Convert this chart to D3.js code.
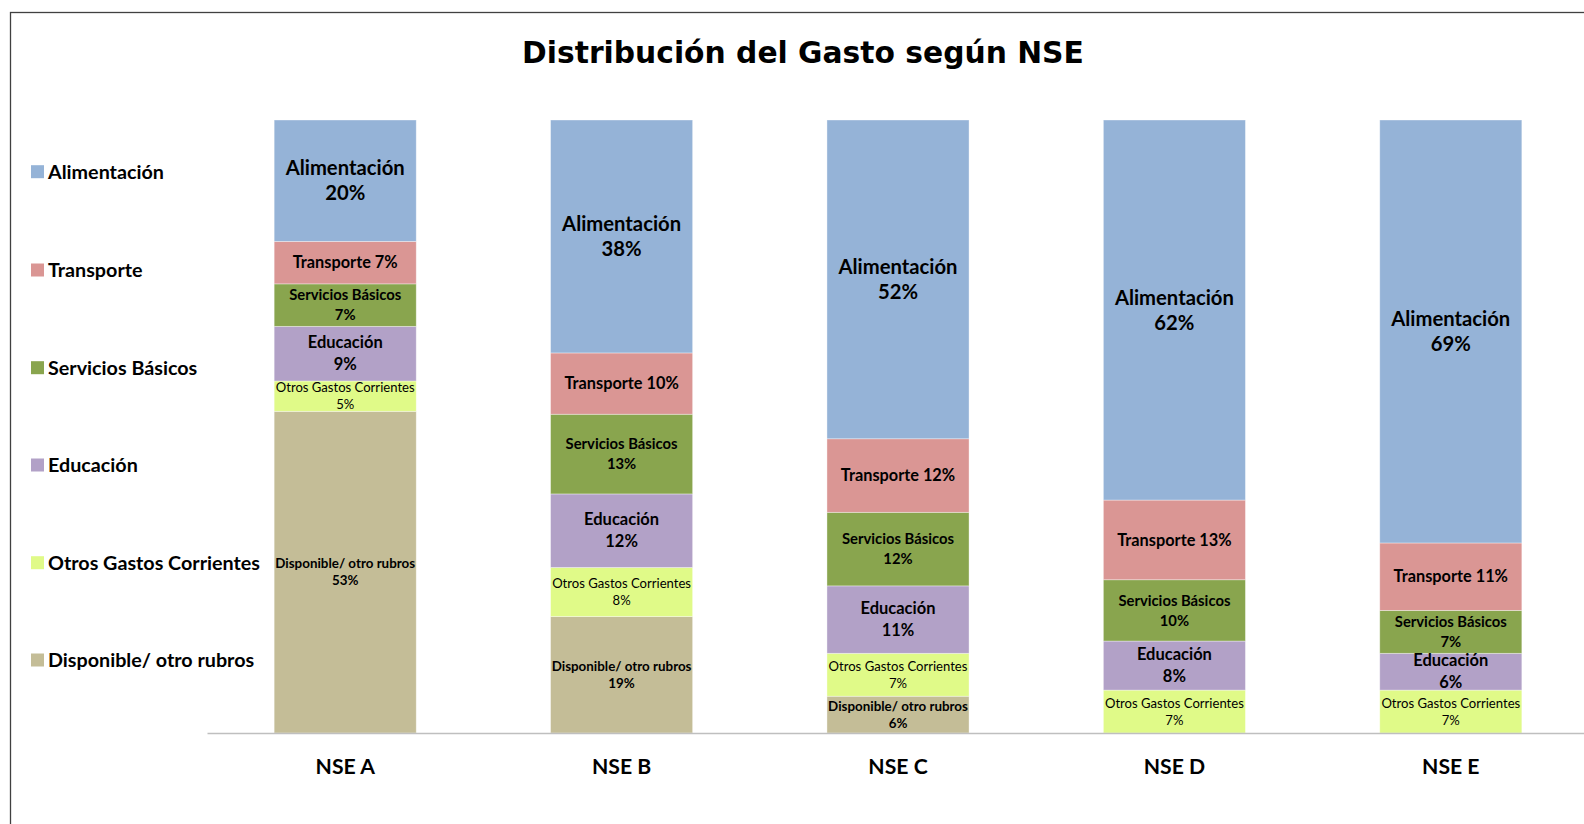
<!DOCTYPE html>
<html>
<head>
<meta charset="utf-8">
<script src="https://cdn.jsdelivr.net/npm/d3@7"></script>
<style>
  html, body { margin: 0; padding: 0; background: #fff; }
  svg { display: block; }
</style>
</head>
<body>
<svg id="chart" width="1584" height="824"></svg>
<script>
// ---- data ----
const categories = ["NSE A", "NSE B", "NSE C", "NSE D", "NSE E"];
const seriesNames = ["Alimentación", "Transporte", "Servicios Básicos", "Educación", "Otros Gastos Corrientes", "Disponible/ otro rubros"];
const alimentacion = [20, 38, 52, 62, 69];
const transporte   = [7, 10, 12, 13, 11];
const servicios    = [7, 13, 12, 10, 7];
const educacion    = [9, 12, 11, 8, 6];
const otros        = [5, 8, 7, 7, 7];
const disponible   = [53, 19, 6, 0, 0];
const titleText = "Distribución del Gasto según NSE";

const seriesValues = [alimentacion, transporte, servicios, educacion, otros, disponible];
const colors = ["#95B3D7", "#DA9694", "#89A54E", "#B2A1C7", "#E0FA88", "#C4BD97"];

// ---- helpers ----
const ctx = document.createElement("canvas").getContext("2d");
function fitSize(text, weight, family, target) {
  ctx.font = `${weight} 100px ${family}`;
  return 100 * target / ctx.measureText(text).width;
}
const calib = "Lato";

const svg = d3.select("#chart");
const W = 1584, H = 824;

// frame
svg.append("rect").attr("x", 10.5).attr("y", 12.5).attr("width", 1600).attr("height", 900)
  .attr("fill", "none").attr("stroke", "#404040").attr("stroke-width", 1.3);

// title
const titleSize = fitSize(titleText, "bold", "DejaVu Sans", 562);
svg.append("text").attr("x", 803).attr("y", 62.5).attr("text-anchor", "middle")
  .attr("font-family", "DejaVu Sans").attr("font-weight", "bold")
  .attr("font-size", titleSize).attr("fill", "#000").text(titleText);

// scales
const x = d3.scaleBand().domain(categories).range([207, 1589]).paddingInner(0.486).paddingOuter(0.243);
const y = d3.scaleLinear().domain([0, 1]).range([733, 120]);

// table
const table = categories.map((c, i) => {
  const o = { cat: c };
  seriesNames.forEach((s, j) => o[s] = seriesValues[j][i]);
  return o;
});
const stackKeys = seriesNames.slice().reverse(); // bottom first
const stacked = d3.stack().keys(stackKeys).offset(d3.stackOffsetExpand)(table);

// label styles per series
const labelStyle = {
  "Alimentación":            { weight: "bold",   ref: "Alimentación", w: 119, lh: 25, twoLine: true },
  "Transporte":              { weight: "bold",   ref: "Transporte 7%", w: 105, lh: 0, twoLine: false },
  "Servicios Básicos":       { weight: "bold",   ref: "Servicios Básicos", w: 112, lh: 20, twoLine: true },
  "Educación":               { weight: "bold",   ref: "Educación", w: 75, lh: 22, twoLine: true },
  "Otros Gastos Corrientes": { weight: "normal", ref: "Otros Gastos Corrientes", w: 139, lh: 17, twoLine: true },
  "Disponible/ otro rubros": { weight: "bold",   ref: "Disponible/ otro rubros", w: 140, lh: 17, twoLine: true }
};
Object.values(labelStyle).forEach(s => s.size = fitSize(s.ref, s.weight, calib, s.w));

const colorOf = d3.scaleOrdinal().domain(seriesNames).range(colors);

// bars
const layers = svg.append("g").selectAll("g").data(stacked).join("g")
  .attr("fill", d => colorOf(d.key));
layers.selectAll("rect").data(d => d.map(p => ({ p, key: d.key }))).join("rect")
  .attr("x", d => x(d.p.data.cat))
  .attr("width", x.bandwidth())
  .attr("y", d => y(d.p[1]))
  .attr("height", d => Math.max(0, y(d.p[0]) - y(d.p[1])))
  .attr("stroke", "rgba(255,255,255,0.45)").attr("stroke-width", 0.8);

// labels
const lblG = svg.append("g").attr("font-family", calib).attr("fill", "#000").attr("text-anchor", "middle");
stacked.forEach(layer => {
  const st = labelStyle[layer.key];
  layer.forEach(p => {
    const raw = p.data[layer.key];
    if (!raw) return;
    const cx = x(p.data.cat) + x.bandwidth() / 2;
    const cy = (y(p[0]) + y(p[1])) / 2;
    const pct = raw + "%";
    const t = lblG.append("text").attr("font-weight", st.weight).attr("font-size", st.size)
      .attr("x", cx);
    if (st.twoLine) {
      t.append("tspan").attr("x", cx).attr("y", cy - st.lh / 2).attr("dy", "0.35em").text(layer.key);
      t.append("tspan").attr("x", cx).attr("y", cy + st.lh / 2).attr("dy", "0.35em").text(pct);
    } else {
      t.attr("y", cy).attr("dy", "0.35em").text(layer.key + " " + pct);
    }
  });
});

// x axis
const catSize = fitSize("NSE A", "bold", calib, 60);
const ax = svg.append("g").attr("transform", "translate(0,733)")
  .call(d3.axisBottom(x).tickSize(0).tickPadding(0));
ax.select(".domain").attr("stroke", "#BFBFBF").attr("stroke-width", 1.5);
ax.selectAll(".tick text").attr("font-family", calib).attr("font-weight", "bold")
  .attr("font-size", catSize).attr("fill", "#000").attr("y", 34).attr("dy", "0.35em");

// legend
const legSize = fitSize("Otros Gastos Corrientes", "bold", calib, 212);
const legY = [171.7, 270, 367.7, 465, 562.7, 660];
const leg = svg.append("g").selectAll("g").data(seriesNames).join("g")
  .attr("transform", (d, i) => `translate(31,${legY[i]})`);
leg.append("rect").attr("x", 0).attr("y", -6.5).attr("width", 13).attr("height", 13)
  .attr("fill", d => colorOf(d));
leg.append("text").attr("x", 17).attr("y", 0).attr("dy", "0.35em")
  .attr("font-family", calib).attr("font-weight", "bold").attr("font-size", legSize)
  .attr("fill", "#000").text(d => d);
</script>
</body>
</html>
